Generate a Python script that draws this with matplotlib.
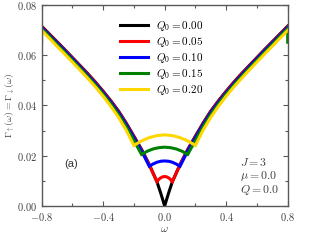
import numpy as np
import matplotlib
matplotlib.use("Agg")
import matplotlib.pyplot as plt
from matplotlib.ticker import MultipleLocator

plt.rcParams['mathtext.fontset'] = 'cm'

# positive-omega side of each curve (mirrored for omega < 0)
w_black = [0.0, 0.025, 0.05, 0.10, 0.15, 0.20, 0.25, 0.30, 0.35, 0.40, 0.45, 0.50, 0.55, 0.60, 0.65, 0.70, 0.75, 0.80]
g_black = [0.0, 0.0050, 0.0096, 0.0165, 0.0225, 0.0278, 0.0330, 0.0378, 0.0419, 0.0457, 0.0493, 0.0527, 0.0559, 0.0591, 0.0623, 0.0654, 0.0685, 0.0716]

w_red = [0.0, 0.0125, 0.025, 0.0375, 0.05, 0.10, 0.15, 0.20, 0.25, 0.30, 0.35, 0.40, 0.45, 0.50, 0.55, 0.60, 0.65, 0.70, 0.75, 0.80]
g_red = [0.0117, 0.0116, 0.0112, 0.0106, 0.0097, 0.0163, 0.0223, 0.0276, 0.0328, 0.0376, 0.0417, 0.0455, 0.0491, 0.0525, 0.0557, 0.0589, 0.0621, 0.0652, 0.0683, 0.0714]

w_blue = [0.0, 0.025, 0.05, 0.075, 0.10, 0.15, 0.20, 0.25, 0.30, 0.35, 0.40, 0.45, 0.50, 0.55, 0.60, 0.65, 0.70, 0.75, 0.80]
g_blue = [0.0179, 0.0178, 0.0174, 0.0167, 0.0158, 0.0219, 0.0272, 0.0324, 0.0372, 0.0413, 0.0451, 0.0487, 0.0521, 0.0554, 0.0586, 0.0618, 0.0649, 0.0680, 0.0711]

w_green = [0.0, 0.0375, 0.075, 0.1125, 0.15, 0.20, 0.25, 0.30, 0.35, 0.40, 0.45, 0.50, 0.55, 0.60, 0.65, 0.70, 0.75, 0.80, 0.80]
g_green = [0.0234, 0.0232, 0.0227, 0.0218, 0.0205, 0.0261, 0.0315, 0.0364, 0.0406, 0.0445, 0.0481, 0.0515, 0.0548, 0.0580, 0.0612, 0.0643, 0.0675, 0.0706, 0.0652]

w_yellow = [0.0, 0.05, 0.10, 0.15, 0.20, 0.25, 0.30, 0.35, 0.40, 0.45, 0.50, 0.55, 0.60, 0.65, 0.70, 0.75, 0.80]
g_yellow = [0.0283, 0.0280, 0.0272, 0.0259, 0.0241, 0.0302, 0.0353, 0.0397, 0.0437, 0.0474, 0.0508, 0.0541, 0.0573, 0.0605, 0.0636, 0.0668, 0.0699]

labels = ["0.00", "0.05", "0.10", "0.15", "0.20"]
colors = ['black', 'red', 'blue', 'green', '#ffd700']

series = [(w_black, g_black), (w_red, g_red), (w_blue, g_blue), (w_green, g_green), (w_yellow, g_yellow)]

fig = plt.figure(figsize=(3.2, 2.4), dpi=100)
ax = fig.add_axes([0.13, 0.142, 0.769, 0.837])

for (w, g), c, lab in zip(series, colors, labels):
    w = np.array(w)
    g = np.array(g)
    x = np.concatenate((-w[::-1], w[1:]))
    y = np.concatenate((g[::-1], g[1:]))
    ax.plot(x, y, color=c, lw=2.2, solid_joinstyle='miter', label=r"$Q_0 = %s$" % lab)

ax.set_xlim(-0.8, 0.8)
ax.set_ylim(0, 0.08)
ax.xaxis.set_major_locator(MultipleLocator(0.4))
ax.xaxis.set_minor_locator(MultipleLocator(0.2))
ax.yaxis.set_major_locator(MultipleLocator(0.02))
ax.yaxis.set_minor_locator(MultipleLocator(0.01))
ax.xaxis.set_major_formatter(plt.FuncFormatter(lambda v, p: r"$%.1f$" % v))
ax.yaxis.set_major_formatter(plt.FuncFormatter(lambda v, p: r"$%.2f$" % v))
ax.tick_params(which='both', direction='in', top=True, right=True, color='0.35', labelcolor='0.25', labelsize=7.5)
ax.tick_params(which='major', length=3.5, width=0.8)
ax.tick_params(which='minor', length=2, width=0.8)
for s in ax.spines.values():
    s.set_color('0.35')
    s.set_linewidth(1.0)

ax.set_xlabel(r"$\omega$", fontsize=8, color='0.25', labelpad=1)
ax.set_ylabel(r"$\Gamma_\uparrow(\omega) = \Gamma_\downarrow(\omega)$", fontsize=7, color='0.25')
ax.yaxis.set_label_coords(-0.10, 0.5)

ax.legend(loc='upper left', bbox_to_anchor=(0.32, 0.93), frameon=False, fontsize=8,
          borderpad=0, borderaxespad=0, handlelength=2.5, handletextpad=0.7, labelspacing=0.18)

ax.text(0.12, 0.21, "(a)", transform=ax.transAxes, fontsize=8, family='Liberation Sans',
        ha='center', va='center', color='0.2')
ax.text(0.805, 0.215, r"$J = 3$", transform=ax.transAxes, fontsize=8.5, va='center', color='0.25')
ax.text(0.805, 0.147, r"$\mu = 0.0$", transform=ax.transAxes, fontsize=8.5, va='center', color='0.25')
ax.text(0.805, 0.08, r"$Q = 0.0$", transform=ax.transAxes, fontsize=8.5, va='center', color='0.25')

fig.savefig("out.png", dpi=100)
